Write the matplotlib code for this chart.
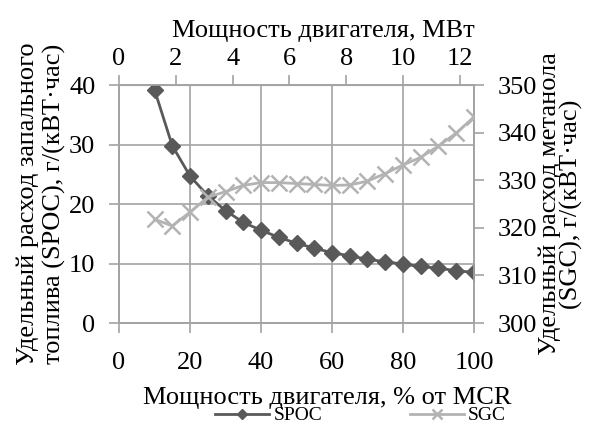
import numpy as np
import matplotlib
matplotlib.use("Agg")
from matplotlib import pyplot as plt

plt.rcParams["font.family"] = ["Liberation Serif", "DejaVu Serif"]

# load, % of MCR
load_pct = [10, 15, 20, 25, 30, 35, 40, 45, 50, 55, 60, 65, 70, 75, 80, 85, 90, 95, 100]
# specific pilot oil consumption, g/(kW*h)
spoc = [39.2, 29.8, 24.7, 21.4, 18.9, 16.9, 15.6, 14.4, 13.4, 12.6, 11.8,
        11.3, 10.7, 10.3, 9.9, 9.5, 9.2, 8.8, 8.5]
# specific methanol consumption, g/(kW*h)
sgc = [321.8, 320.4, 323.3, 326.4, 327.6, 328.9, 329.5, 329.5, 329.3, 329.1, 328.9,
       329.0, 329.8, 331.4, 333.2, 334.8, 337.2, 339.9, 343.3]
MCR_MW = 12.5

GRID = "#a3a3a3"
FS = 19

fig = plt.figure(figsize=(5.91, 4.24), dpi=100)
ax = fig.add_axes([0.2014, 0.2382, 0.6006, 0.5613])
ax2 = ax.twinx()

l1, = ax.plot(load_pct, spoc, color="#595959", lw=2, marker="D", ms=8,
              label="SPOC", zorder=3)
l2, = ax2.plot(load_pct, sgc, color="#b3b3b3", lw=2, marker="x", ms=11, mew=1.8,
               label="SGC", zorder=3)

ax.set_xlim(0, 100)
ax.set_ylim(0, 40)
ax2.set_ylim(300, 350)
ax.set_xticks(np.arange(0, 101, 20))
ax.set_yticks(np.arange(0, 41, 10))
ax2.set_yticks(np.arange(300, 351, 10))
ax.grid(True, color=GRID, lw=1.2)
ax.set_axisbelow(True)

for a in (ax, ax2):
    for s in a.spines.values():
        s.set_color(GRID)
        s.set_linewidth(1.2)
    a.tick_params(colors=GRID, labelcolor="black", labelsize=FS, length=7,
                  width=1.2, direction="out", pad=10)
ax.tick_params(axis="x", pad=14)

top = ax.secondary_xaxis("top", functions=(lambda x: x * MCR_MW / 100,
                                            lambda m: m * 100 / MCR_MW))
top.set_xticks(np.arange(0, 13, 2))
top.tick_params(colors=GRID, labelcolor="black", labelsize=FS, length=7,
                width=1.2, direction="out", pad=4)
top.spines["top"].set_color(GRID)
top.set_xlabel("Мощность двигателя, МВт", fontsize=FS)
top.xaxis.set_label_coords(0.575, 1.225, transform=ax.transAxes)
top.xaxis.label.set_verticalalignment("center")

ax.set_xlabel("Мощность двигателя, % от MCR", fontsize=FS)
ax.xaxis.set_label_coords(0.586, -0.315)
ax.xaxis.label.set_verticalalignment("center")

ax.set_ylabel("Удельный расход запального\nтоплива (SPOC), г/(кВТ·час)",
              fontsize=FS, linespacing=1.2)
ax.yaxis.set_label_coords(-0.22, 0.5)
ax.yaxis.label.set_verticalalignment("center")
ax2.set_ylabel("Удельный расход метанола\n(SGC), г/(кВТ·час)",
               fontsize=FS, linespacing=0.95, rotation=90)
ax2.yaxis.set_label_coords(1.245, 0.5)
ax2.yaxis.label.set_verticalalignment("center")

fig.legend(handles=[l1, l2], loc="center", bbox_to_anchor=(0.61, 0.02),
           ncol=2, frameon=False, fontsize=14, handlelength=2.8,
           handletextpad=0.2, columnspacing=4.5, markerscale=0.6)

fig.savefig("out.png", dpi=100)
